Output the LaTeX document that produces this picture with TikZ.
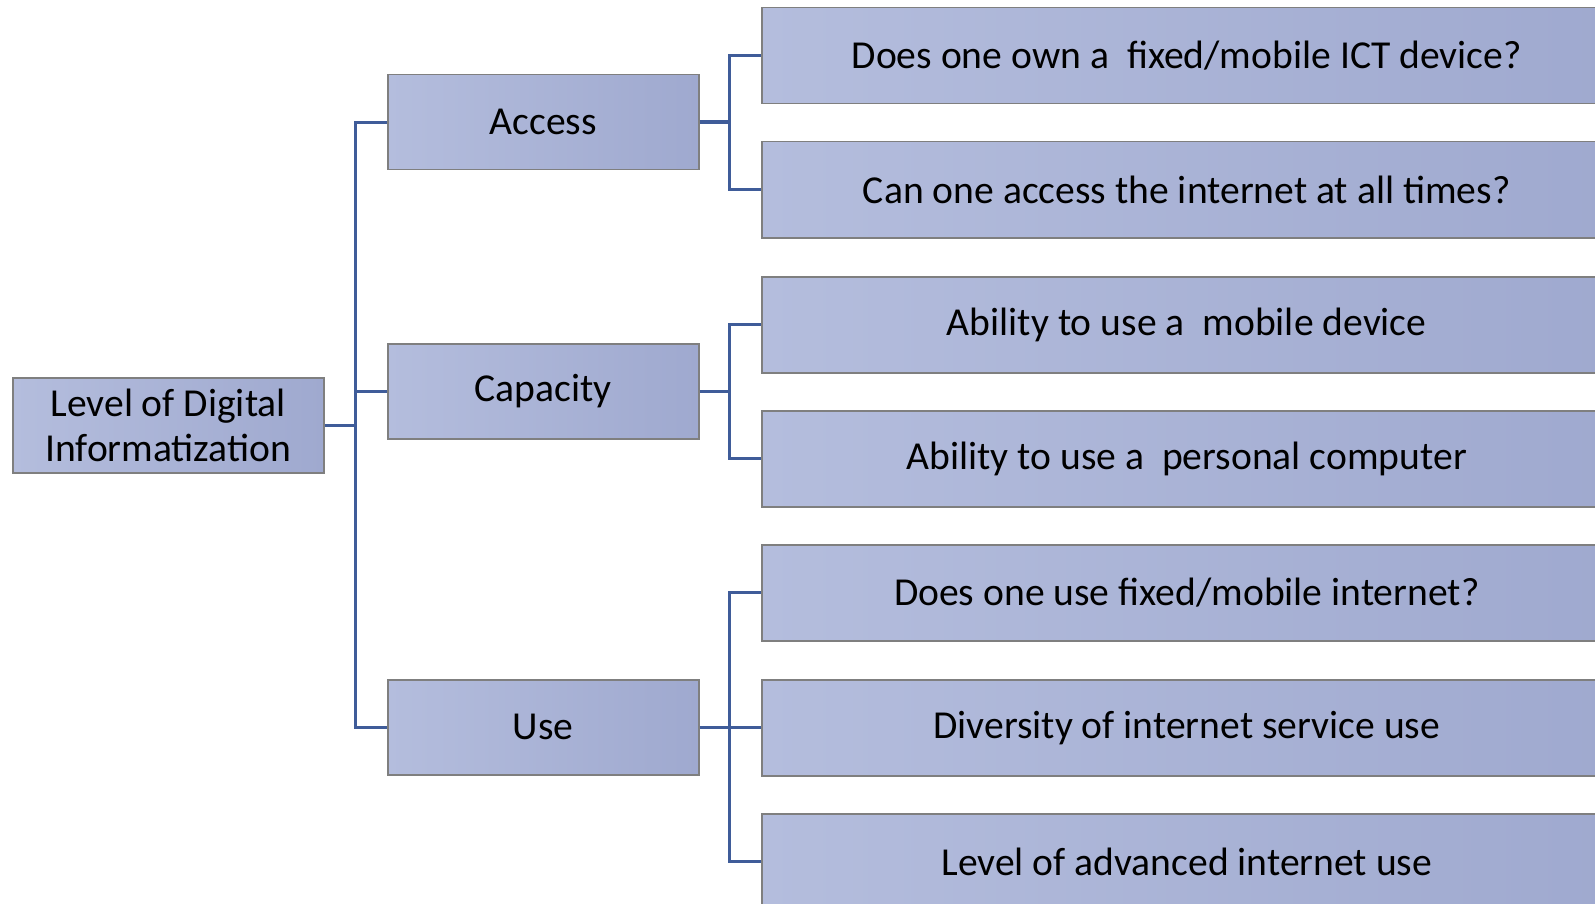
\documentclass[tikz,border=0pt]{standalone}
\usepackage{fontspec}
\setmainfont{Carlito}
\definecolor{boxlight}{HTML}{B4BDDD}
\definecolor{boxdark}{HTML}{9FA9CF}
\definecolor{boxedge}{HTML}{7F7F7F}
\definecolor{conncol}{HTML}{3F5C99}
\begin{document}
\begin{tikzpicture}[x=1pt,y=-1pt,
  box/.style={draw=boxedge, line width=1.5pt, left color=boxlight, right color=boxdark,
    anchor=north west, inner sep=0pt, align=center,
    font=\fontsize{39.6}{44.5}\selectfont},
  midbox/.style={box, minimum width=311pt, minimum height=95pt},
  leafbox/.style={box, minimum width=850pt, minimum height=96pt},
  conn/.style={draw=conncol, line width=3pt},
  connthick/.style={draw=conncol, line width=3.5pt}]
\clip (0,0) rectangle (1595,904);
\fill[white] (0,0) rectangle (1595,904);

\node[box, minimum width=311pt, minimum height=95pt] (root) at (12,377) {Level of Digital\\Informatization};

\node[midbox] (access) at (387,74) {Access};
\node[midbox] (capacity) at (387,343) {Capacity};
\node[midbox] (use) at (387,679) {Use};

\node[leafbox] (q1) at (761,7) {Does one own a \ fixed/mobile ICT device?};
\node[leafbox] (q2) at (761,141) {Can one access the internet at all times?};
\node[leafbox] (q3) at (761,276) {Ability to use a \ mobile device};
\node[leafbox] (q4) at (761,410) {Ability to use a \ personal computer};
\node[leafbox] (q5) at (761,544) {Does one use fixed/mobile internet?};
\node[leafbox] (q6) at (761,679) {Diversity of internet service use};
\node[leafbox] (q7) at (761,813) {Level of advanced internet use};

\coordinate (t1) at (355,0);
\coordinate (t2) at (729,0);

\draw[connthick] (root.east) -- (root.east -| t1);
\draw[conn] (access.west) -- (access.west -| t1) -- (use.west -| t1) -- (use.west);
\draw[conn] (capacity.west) -- (capacity.west -| t1);

\draw[connthick] (access.east) -- (access.east -| t2);
\draw[conn] (q1.west) -- (q1.west -| t2) -- (q2.west -| t2) -- (q2.west);

\draw[connthick] (capacity.east) -- (capacity.east -| t2);
\draw[conn] (q3.west) -- (q3.west -| t2) -- (q4.west -| t2) -- (q4.west);

\draw[connthick] (use.east) -- (use.east -| t2);
\draw[conn] (q5.west) -- (q5.west -| t2) -- (q7.west -| t2) -- (q7.west);
\draw[conn] (q6.west) -- (q6.west -| t2);
\end{tikzpicture}
\end{document}
